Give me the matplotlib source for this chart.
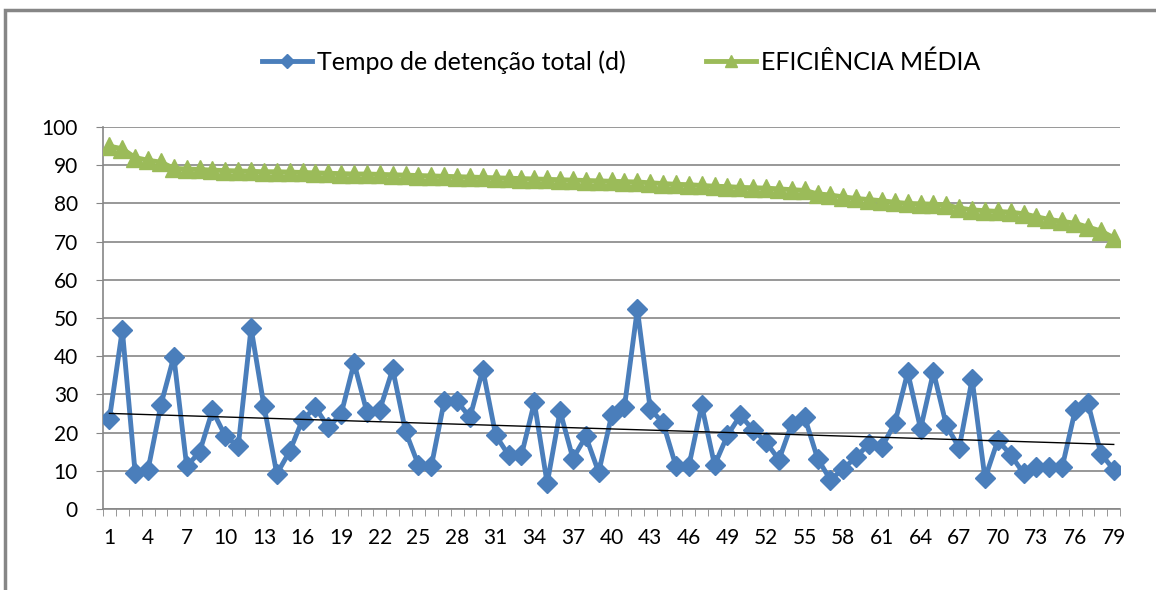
import numpy as np
import matplotlib
matplotlib.use("Agg")
from matplotlib import pyplot as plt
from matplotlib.patches import Rectangle

plt.rcParams['font.family'] = ['Lato', 'DejaVu Sans']

# dados
amostra = list(range(1, 80))
tempo_detencao = [
    23.6, 46.9, 9.3, 10.3, 27.3, 39.9, 11.2, 14.9, 25.8, 19.1,
    16.4, 47.4, 27.0, 9.2, 15.1, 23.4, 26.6, 21.4, 24.9, 38.2,
    25.3, 26.0, 36.6, 20.3, 11.5, 11.2, 28.2, 28.2, 24.0, 36.5,
    19.3, 14.1, 14.1, 27.9, 6.7, 25.6, 13.2, 19.0, 9.6, 24.5,
    26.8, 52.3, 26.2, 22.5, 11.2, 11.2, 27.1, 11.5, 19.3, 24.5,
    20.7, 17.5, 12.9, 22.3, 24.0, 13.2, 7.6, 10.6, 13.6, 17.1,
    16.2, 22.5, 35.8, 21.0, 35.9, 21.9, 16.0, 34.0, 8.0, 18.0,
    14.2, 9.3, 11.0, 11.0, 11.0, 25.8, 27.7, 14.5, 10.3,
]
eficiencia = [
    95.0, 94.3, 92.0, 91.3, 90.8, 89.2, 89.0, 88.9, 88.7, 88.6,
    88.5, 88.4, 88.3, 88.3, 88.2, 88.1, 88.0, 87.9, 87.8, 87.7,
    87.7, 87.6, 87.5, 87.4, 87.3, 87.2, 87.1, 87.0, 86.9, 86.8,
    86.7, 86.6, 86.5, 86.4, 86.3, 86.2, 86.1, 86.0, 85.9, 85.8,
    85.7, 85.6, 85.4, 85.2, 85.0, 84.9, 84.7, 84.5, 84.4, 84.2,
    84.1, 84.0, 83.8, 83.6, 83.4, 82.5, 82.2, 81.7, 81.3, 81.0,
    80.7, 80.3, 80.0, 79.9, 79.8, 79.6, 78.8, 78.3, 78.1, 77.9,
    77.7, 77.3, 76.5, 75.8, 75.3, 74.8, 73.8, 72.8, 71.0,
]
x_rotulos = list(range(1, 80, 3))

azul = '#4A7EBB'
verde = '#9BBB59'
cinza = '#868686'

fig = plt.figure(figsize=(11.56, 5.90), dpi=100)
ax = fig.add_axes([0.0891, 0.1373, 0.8799, 0.6474])

# moldura externa (estilo Excel)
fig.patches.append(Rectangle((0.004, -0.1), 1.2, 1.083, transform=fig.transFigure,
                             fill=False, edgecolor=cinza, linewidth=2.5))

ax.plot(amostra, tempo_detencao, color=azul, linewidth=3.5, marker='D',
        markersize=10, markerfacecolor=azul, markeredgecolor=azul,
        label='Tempo de detenção total (d)', zorder=3)
ax.plot(amostra, eficiencia, color=verde, linewidth=3.5, marker='^',
        markersize=13, markerfacecolor=verde, markeredgecolor=verde,
        label='EFICIÊNCIA MÉDIA', zorder=3)

# linha de tendência linear
coef = np.polyfit(amostra, tempo_detencao, 1)
xt = np.array([amostra[0], amostra[-1]])
ax.plot(xt, np.polyval(coef, xt), color='black', linewidth=1.0, zorder=4)

ax.set_xlim(0.5, 79.5)
ax.set_ylim(0, 100)
ax.set_yticks(range(0, 101, 10))
ax.yaxis.grid(True, color=cinza, linewidth=1.2)
ax.set_axisbelow(True)

ax.set_xticks(x_rotulos)
ax.set_xticklabels([str(v) for v in x_rotulos])
ax.set_xticks(np.arange(0.5, 80, 1), minor=True)
ax.tick_params(axis='x', which='major', length=0, pad=14, labelsize=15)
ax.tick_params(axis='x', which='minor', length=5, color=cinza, direction='out')
ax.tick_params(axis='y', length=5, color=cinza, direction='out', pad=13, labelsize=15)

for s in ['top', 'right']:
    ax.spines[s].set_visible(False)
for s in ['left', 'bottom']:
    ax.spines[s].set_color(cinza)
    ax.spines[s].set_linewidth(1.2)

fig.legend(loc='center', bbox_to_anchor=(0.537, 0.895), ncol=2, frameon=False,
           fontsize=18, handlelength=2.0, columnspacing=3.2, handletextpad=0.2,
           markerscale=0.7)

fig.savefig('out.png', dpi=100)
